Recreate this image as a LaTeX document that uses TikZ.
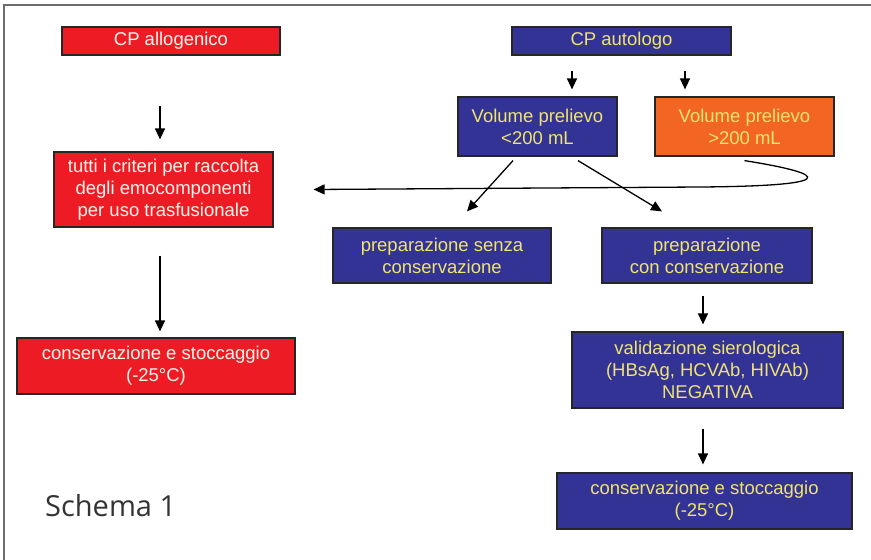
\documentclass[tikz,border=0pt]{standalone}
\usepackage{fontspec}
\setmainfont{Liberation Sans}
\newfontfamily\schemafont{Open Sans}
\usetikzlibrary{arrows.meta}
\definecolor{boxblue}{RGB}{51,51,150}
\definecolor{boxred}{RGB}{237,28,36}
\definecolor{boxorange}{RGB}{242,101,34}
\definecolor{txtyellow}{RGB}{238,228,110}
\definecolor{txtwhite}{RGB}{252,244,236}
\definecolor{framegray}{RGB}{110,110,110}
\tikzset{
  box/.style={draw=black!85, line width=1.2pt, rectangle, inner sep=0pt, align=center,
    font=\fontsize{18.5}{22}\selectfont},
  bluebox/.style={box, fill=boxblue, text=txtyellow},
  redbox/.style={box, fill=boxred, text=txtwhite},
  orangebox/.style={box, fill=boxorange, text=txtyellow},
  arr/.style={line width=1.3pt, -{Triangle[length=11pt,width=10pt]}},
}
\begin{document}
\begin{tikzpicture}[x=1pt,y=-1pt]
\useasboundingbox (0,0) rectangle (871,560);
\draw[framegray, line width=1.5pt] (4,560) -- (4,5) -- (871,5);

% left column
\node[redbox, minimum width=218pt, minimum height=28pt] (allo) at (171,41) {CP allogenico};
\node[redbox, minimum width=219pt, minimum height=75pt] (crit) at (163.5,189.5)
  {tutti i criteri per raccolta\\degli emocomponenti\\per uso trasfusionale};
\node[redbox, minimum width=278pt, minimum height=56pt] (consL) at (156,366)
  {conservazione e stoccaggio\\(-25°C)};

% right part
\node[bluebox, minimum width=219pt, minimum height=28pt] (auto) at (621.5,41) {CP autologo};
\node[bluebox, minimum width=159pt, minimum height=59pt] (vlow) at (537.5,126.5)
  {Volume prelievo\\<200 mL};
\node[orangebox, minimum width=179pt, minimum height=59pt] (vhigh) at (744.5,126.5)
  {Volume prelievo\\>200 mL};
\node[bluebox, minimum width=218pt, minimum height=55pt] (senza) at (442,255.5)
  {preparazione senza\\conservazione};
\node[bluebox, minimum width=210pt, minimum height=55pt] (con) at (707,255.5)
  {preparazione\\con conservazione};
\node[bluebox, minimum width=271pt, minimum height=76pt] (valid) at (707.5,370)
  {validazione sierologica\\(HBsAg, HCVAb, HIVAb)\\NEGATIVA};
\node[bluebox, minimum width=295pt, minimum height=56pt] (consR) at (704.5,501)
  {conservazione e stoccaggio\\(-25°C)};

\node[anchor=base west, inner sep=0pt, text=black!80,
  font=\schemafont\fontsize{29}{32}\selectfont] (schema) at (45,516) {Schema 1};

% arrows
\draw[arr, shorten <=50pt, shorten >=12pt] ([xshift=-3.5pt]crit.north |- allo.south) -- ([xshift=-3.5pt]crit.north);
\draw[arr, shorten <=28pt, shorten >=6pt] ([xshift=-3.5pt]crit.south) -- ([xshift=-3.5pt]crit.south |- consL.north);
\draw[arr, shorten <=15pt, shorten >=7pt] ([xshift=-49.5pt]auto.south) -- ([xshift=34.5pt]vlow.north);
\draw[arr, shorten <=15pt, shorten >=7pt] ([xshift=63.5pt]auto.south) -- ([xshift=-59.5pt]vhigh.north);

\coordinate (l1) at ([xshift=-24.5pt,yshift=-4pt]vlow.south);
\coordinate (l2) at ([xshift=25pt,yshift=16pt]senza.north);
\coordinate (r1) at ([xshift=40.5pt,yshift=-4pt]vlow.south);
\coordinate (r2) at ([xshift=-45pt,yshift=16pt]con.north);
\draw[arr] (l1) -- (l2);
\draw[arr] (r1) -- (r2);

\coordinate (c1) at ([yshift=-4pt]vhigh.south);
\coordinate (c2) at ([xshift=40pt]crit.east);
\draw[arr] (c1) .. controls (835,175) and (835,186) .. (700,187) -- (c2);

\draw[arr, shorten <=12pt, shorten >=7pt] ([xshift=-4pt]con.south) -- ([xshift=-4.5pt]valid.north);
\draw[arr, shorten <=20pt, shorten >=8pt] ([xshift=-4.5pt]valid.south) -- ([xshift=-1.5pt]consR.north);
\end{tikzpicture}
\end{document}
